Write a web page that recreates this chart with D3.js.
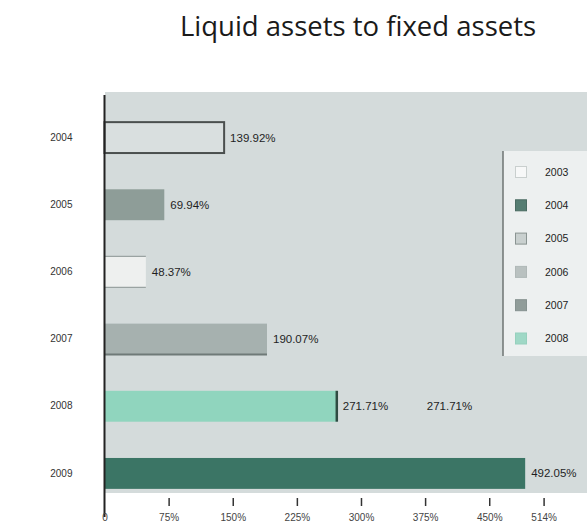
<!DOCTYPE html>
<html>
<head>
<meta charset="utf-8">
<script src="https://cdn.jsdelivr.net/npm/d3@7"></script>
<style>
  html, body { margin: 0; padding: 0; background: #ffffff; }
  svg { display: block; }
</style>
</head>
<body>
<script>
// Liquid assets to fixed assets, by year
const years = ["2004", "2005", "2006", "2007", "2008", "2009"];
const ratios = [139.92, 69.94, 48.37, 190.07, 271.71, 492.05];
const valueLabels = ["139.92%", "69.94%", "48.37%", "190.07%", "271.71%", "492.05%"];
const tickValues = [0, 75, 150, 225, 300, 375, 450, 513.6];
const tickLabels = ["0", "75%", "150%", "225%", "300%", "375%", "450%", "514%"];
const legendLabels = ["2003", "2004", "2005", "2006", "2007", "2008"];
const strayLabel = { year: "2008", value: 271.71, text: "271.71%" };

const W = 587, H = 530;
const barFill = ["#d9dfdf", "#8e9d98", "#eef0ef", "#a6b1af", "#90d5be", "#3b7565"];
const barStroke = ["#4a4f4e", null, null, null, null, null];
const legendFill = ["#f7f8f8", "#557d72", "#c9d0cf", "#b9c1c0", "#909c99", "#9fd8c6"];
const legendStroke = ["#c9cfce", "#4a6b62", "#8a9492", "#b0b8b7", "#869290", "#96d0bd"];

const svg = d3.select("body").append("svg").attr("width", W).attr("height", H);

const x = d3.scaleLinear().domain([0, 513.6]).range([104.5, 543.6]);
const y = d3.scaleBand().domain(years).range([104, 507])
  .paddingInner(0.54).paddingOuter(0.27);

// title
svg.append("text")
  .attr("x", 358).attr("y", 36)
  .attr("text-anchor", "middle")
  .attr("font-family", "'Open Sans', 'Noto Sans', sans-serif")
  .attr("font-size", 27.5)
  .attr("fill", "#1a1a1a")
  .text("Liquid assets to fixed assets");

// plot background
svg.append("rect")
  .attr("x", 105).attr("y", 92)
  .attr("width", W - 105).attr("height", 401)
  .attr("fill", "#d4dbdb");

// bars
const bars = svg.append("g");
bars.selectAll("rect")
  .data(years)
  .join("rect")
  .attr("x", x(0))
  .attr("y", d => y(d))
  .attr("width", (d, i) => x(ratios[i]) - x(0))
  .attr("height", y.bandwidth())
  .attr("fill", (d, i) => barFill[i])
  .attr("stroke", (d, i) => barStroke[i] || "none")
  .attr("stroke-width", 2);

// edge accents on a few bars
const i07 = years.indexOf("2007");
svg.append("line")
  .attr("x1", x(0)).attr("x2", x(ratios[i07]))
  .attr("y1", y("2007") + y.bandwidth()).attr("y2", y("2007") + y.bandwidth())
  .attr("stroke", "#6f7a78").attr("stroke-width", 2);
const i08 = years.indexOf("2008");
svg.append("line")
  .attr("x1", x(ratios[i08])).attr("x2", x(ratios[i08]))
  .attr("y1", y("2008")).attr("y2", y("2008") + y.bandwidth())
  .attr("stroke", "#2f4b42").attr("stroke-width", 2.5);
const i06 = years.indexOf("2006");
[y("2006"), y("2006") + y.bandwidth()].forEach(yy => {
  svg.append("line")
    .attr("x1", x(0)).attr("x2", x(ratios[i06]))
    .attr("y1", yy).attr("y2", yy)
    .attr("stroke", "#9aa3a2").attr("stroke-width", 1.2);
});

// value labels
svg.append("g").selectAll("text")
  .data(years)
  .join("text")
  .attr("x", (d, i) => x(ratios[i]) + 6)
  .attr("y", d => y(d) + y.bandwidth() / 2)
  .attr("dy", "0.35em")
  .attr("font-family", "'Liberation Sans', Arial, sans-serif")
  .attr("font-size", 11.5)
  .attr("fill", "#1f1f1f")
  .text((d, i) => valueLabels[i]);

svg.append("text")
  .attr("x", x(strayLabel.value) + 90)
  .attr("y", y(strayLabel.year) + y.bandwidth() / 2)
  .attr("dy", "0.35em")
  .attr("font-family", "'Liberation Sans', Arial, sans-serif")
  .attr("font-size", 11.5)
  .attr("fill", "#1f1f1f")
  .text(strayLabel.text);

// y axis
const yAxis = svg.append("g")
  .attr("transform", "translate(104.5,0)")
  .call(d3.axisLeft(y).tickSize(0).tickPadding(32));
yAxis.select(".domain").remove();
yAxis.selectAll("text")
  .attr("font-family", "'Liberation Sans', Arial, sans-serif")
  .attr("font-size", 10)
  .attr("fill", "#333");
svg.append("line")
  .attr("x1", 104.5).attr("x2", 104.5)
  .attr("y1", 95).attr("y2", 517)
  .attr("stroke", "#222").attr("stroke-width", 2);

// x axis
const xAxis = svg.append("g")
  .attr("transform", "translate(0,498)")
  .call(d3.axisBottom(x).tickValues(tickValues)
    .tickFormat((d, i) => tickLabels[i]).tickSize(8).tickPadding(8));
xAxis.select(".domain").remove();
xAxis.selectAll("line").attr("stroke", "#333").attr("stroke-width", 1.5);
xAxis.selectAll(".tick").filter(d => d === 0).select("line").remove();
xAxis.selectAll("text")
  .attr("font-family", "'Liberation Sans', Arial, sans-serif")
  .attr("font-size", 10)
  .attr("fill", "#444");

// legend
const lg = svg.append("g").attr("transform", "translate(503,151)");
lg.append("rect")
  .attr("width", W - 503).attr("height", 205)
  .attr("fill", "#edf0f0");
lg.append("line")
  .attr("x1", 0).attr("x2", 0).attr("y1", 0).attr("y2", 205)
  .attr("stroke", "#6e7473").attr("stroke-width", 1.5);
const items = lg.selectAll("g.item")
  .data(legendLabels)
  .join("g")
  .attr("class", "item")
  .attr("transform", (d, i) => `translate(0,${21 + i * 33.3})`);
items.append("rect")
  .attr("x", 12.5).attr("y", -5.5)
  .attr("width", 11).attr("height", 11)
  .attr("fill", (d, i) => legendFill[i])
  .attr("stroke", (d, i) => legendStroke[i]);
items.append("text")
  .attr("x", 42).attr("dy", "0.35em")
  .attr("font-family", "'Liberation Sans', Arial, sans-serif")
  .attr("font-size", 10.5)
  .attr("fill", "#222")
  .text(d => d);
</script>
</body>
</html>
